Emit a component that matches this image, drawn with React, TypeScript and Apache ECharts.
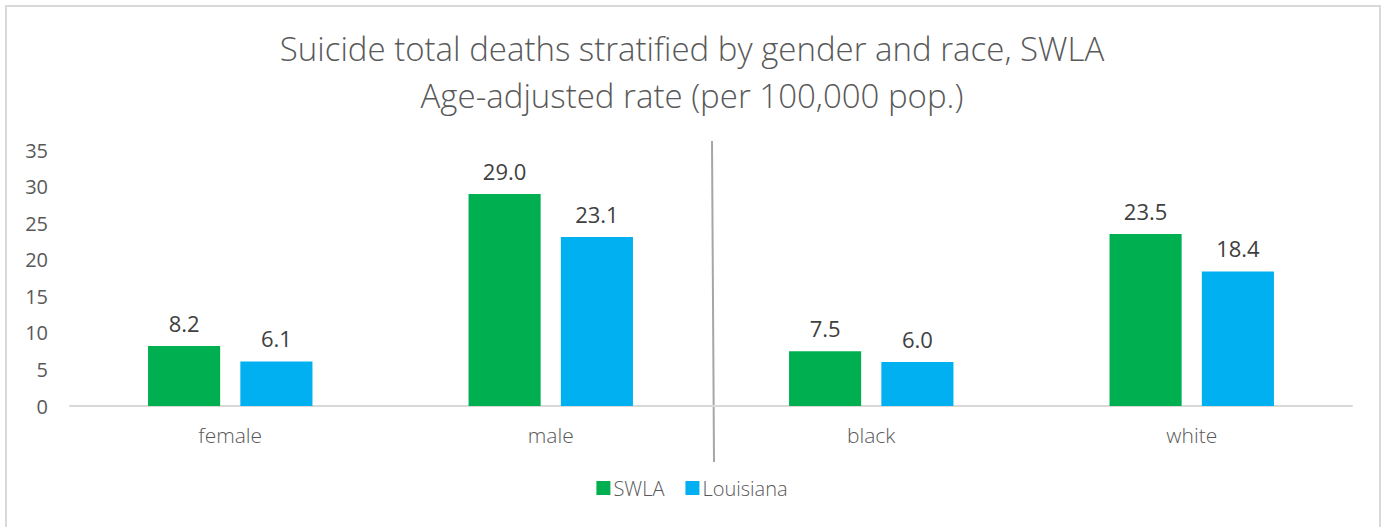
import React, { useEffect, useRef } from "react";
import * as echarts from "echarts";

const categories = ["female", "male", "black", "white"];
const swla = [8.2, 29.0, 7.5, 23.5];
const louisiana = [6.1, 23.1, 6.0, 18.4];
const yTicks = [0, 5, 10, 15, 20, 25, 30, 35];
const titleLines = [
  "Suicide total deaths stratified by gender and race, SWLA",
  "Age-adjusted rate (per 100,000 pop.)",
];

const FONT = "'Open Sans', 'Noto Sans', sans-serif";
const TEXT = "#595959";

export default function App() {
  const ref = useRef<HTMLDivElement>(null);
  useEffect(() => {
    if (!ref.current) return;
    const chart = echarts.init(ref.current, undefined, { renderer: "svg" });
    const labelCfg = {
      show: true,
      position: "top",
      distance: 12,
      formatter: (p: any) => p.value.toFixed(1),
      fontFamily: FONT,
      fontSize: 22,
      color: "#404040",
    };
    chart.setOption({
      animation: false,
      backgroundColor: "#ffffff",
      textStyle: { fontFamily: FONT },
      title: titleLines.map((t, i) => ({
        text: t,
        left: "center",
        top: 32 + i * 47,
        padding: 0,
        textStyle: {
          fontFamily: FONT,
          fontSize: 33,
          fontWeight: 300,
          color: TEXT,
        },
      })),
      legend: {
        bottom: 24,
        left: "center",
        itemWidth: 14,
        itemHeight: 14,
        itemGap: 21,
        icon: "rect",
        textStyle: { fontFamily: FONT, fontSize: 20, fontWeight: 300, color: TEXT, padding: [0, 0, 0, -2] },
        data: ["SWLA", "Louisiana"],
      },
      grid: { left: 70, right: 32, top: 150, bottom: 121 },
      xAxis: {
        type: "category",
        data: categories,
        axisLine: { lineStyle: { color: "#d9d9d9", width: 2 } },
        axisTick: { show: false },
        axisLabel: { fontFamily: FONT, fontSize: 21, color: TEXT, margin: 18, fontWeight: 300 },
      },
      yAxis: {
        type: "value",
        min: yTicks[0],
        max: yTicks[yTicks.length - 1],
        interval: 5,
        splitLine: { show: false },
        axisLine: { show: false },
        axisTick: { show: false },
        axisLabel: { fontFamily: FONT, fontSize: 20, color: TEXT, margin: 22 },
      },
      series: [
        {
          name: "SWLA",
          type: "bar",
          data: swla,
          barWidth: "22.5%",
          barGap: "28%",
          itemStyle: { color: "#00B050" },
          label: labelCfg,
        },
        {
          name: "Louisiana",
          type: "bar",
          data: louisiana,
          barWidth: "22.5%",
          barGap: "28%",
          itemStyle: { color: "#00B0F0" },
          label: labelCfg,
        },
      ],
      graphic: [
        {
          type: "rect",
          shape: { x: 6, y: 6, width: 1374, height: 530 },
          style: { fill: "none", stroke: "#d9d9d9", lineWidth: 2 },
          silent: true,
        },
        {
          type: "line",
          shape: { x1: 712, y1: 141, x2: 714, y2: 462 },
          style: { stroke: "#a6a6a6", lineWidth: 2 },
          silent: true,
        },
      ],
    });
    return () => chart.dispose();
  }, []);
  return (
    <div
      ref={ref}
      style={{ position: "fixed", left: 0, top: 0, width: 1384, height: 527 }}
    />
  );
}
